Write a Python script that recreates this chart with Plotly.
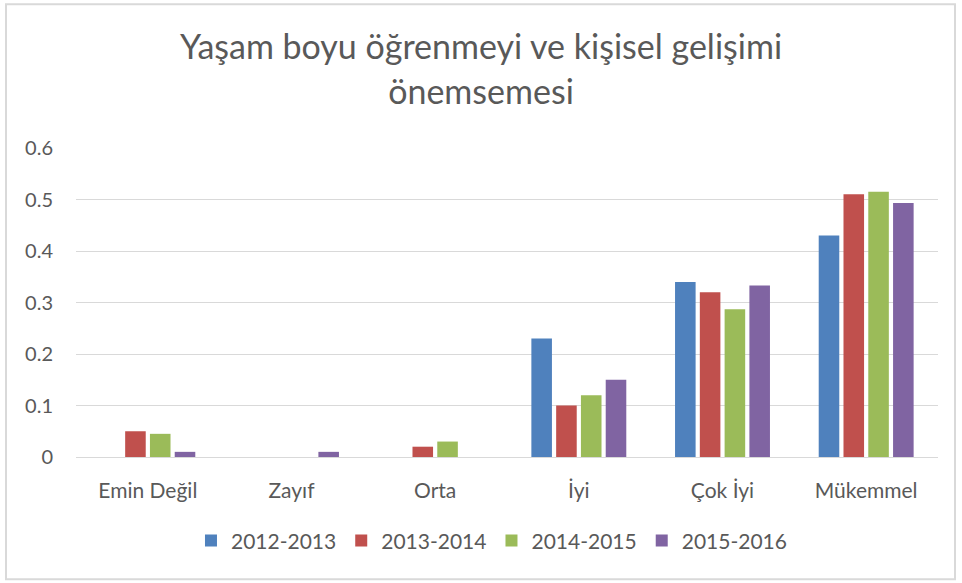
import plotly.graph_objects as go

categories = ['Emin Değil', 'Zayıf', 'Orta', 'İyi', 'Çok İyi', 'Mükemmel']
years = ['2012-2013', '2013-2014', '2014-2015', '2015-2016']

v_2012_2013 = [0, 0, 0, 0.23, 0.34, 0.43]
v_2013_2014 = [0.05, 0, 0.02, 0.10, 0.32, 0.51]
v_2014_2015 = [0.045, 0, 0.03, 0.12, 0.287, 0.515]
v_2015_2016 = [0.01, 0.01, 0, 0.15, 0.333, 0.493]

series = [v_2012_2013, v_2013_2014, v_2014_2015, v_2015_2016]
colors = ['#4F81BD', '#C0504D', '#9BBB59', '#8064A2']

FONT = 'Lato, Noto Sans, sans-serif'
GREY = '#595959'

fig = go.Figure()
for name, vals, c in zip(years, series, colors):
    fig.add_trace(go.Bar(
        x=categories,
        y=vals,
        name=name,
        marker=dict(color=c, line=dict(width=0)),
    ))

fig.update_layout(
    width=962,
    height=583,
    margin=dict(l=76, r=24, t=148, b=126),
    paper_bgcolor='white',
    plot_bgcolor='white',
    barmode='group',
    bargap=0.31,
    bargroupgap=0.17,
    font=dict(family=FONT, color=GREY, size=20),
    title=dict(
        text='Yaşam boyu öğrenmeyi ve kişisel gelişimi<br>önemsemesi',
        x=0.5, xanchor='center',
        y=0.898, yanchor='middle',
        font=dict(family=FONT, size=34, color=GREY),
    ),
    legend=dict(
        orientation='h',
        x=0.482, xanchor='center',
        y=-0.271, yanchor='middle',
        font=dict(size=21, color=GREY),
        traceorder='normal',
        itemwidth=30,
    ),
    xaxis=dict(
        showgrid=False,
        showline=False,
        ticks='',
        ticklabelstandoff=19,
        tickfont=dict(size=21, color=GREY),
    ),
    yaxis=dict(
        range=[0, 0.6],
        dtick=0.1,
        tickformat='.1~f',
        showgrid=True,
        gridcolor='#D9D9D9',
        gridwidth=1,
        zeroline=True,
        zerolinecolor='#D9D9D9',
        zerolinewidth=1,
        showline=False,
        ticks='',
        ticklabelstandoff=22,
        tickfont=dict(size=20, color=GREY),
    ),
    shapes=[dict(
        type='rect', xref='paper', yref='paper',
        x0=-0.0812, x1=1.0197, y0=-0.396, y1=1.465,
        line=dict(color='#D9D9D9', width=2),
        fillcolor='rgba(0,0,0,0)',
        layer='below',
    )],
)

fig.write_html('out.html', config={'displayModeBar': False},
               post_script="document.body.style.margin='0';")
